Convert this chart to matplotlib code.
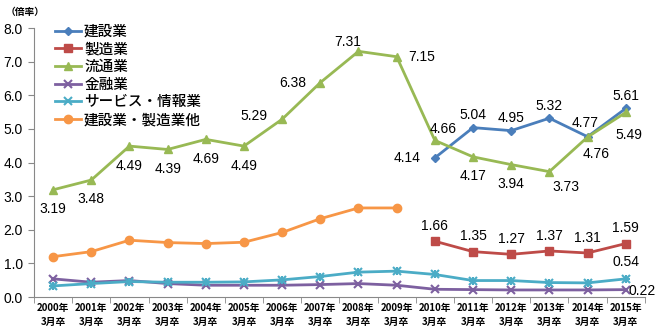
import matplotlib
matplotlib.use("Agg")
import matplotlib.pyplot as plt
import numpy as np

plt.rcParams['font.family'] = ['Noto Sans CJK JP', 'DejaVu Sans']

years = [str(y) for y in range(2000, 2016)]
tick_labels = [f"{y}年\n3月卒" for y in years]

# 2010年以降のみ
construction = [None] * 10 + [4.14, 5.04, 4.95, 5.32, 4.77, 5.61]
manufacturing = [None] * 10 + [1.66, 1.35, 1.27, 1.37, 1.31, 1.59]
distribution = [3.19, 3.48, 4.49, 4.39, 4.69, 4.49, 5.29, 6.38, 7.31, 7.15,
                4.66, 4.17, 3.94, 3.73, 4.76, 5.49]
finance = [0.54, 0.44, 0.49, 0.40, 0.35, 0.35, 0.35, 0.37, 0.40, 0.35,
           0.23, 0.22, 0.21, 0.21, 0.21, 0.22]
service = [0.33, 0.40, 0.46, 0.44, 0.44, 0.45, 0.51, 0.61, 0.74, 0.77,
           0.67, 0.49, 0.49, 0.43, 0.42, 0.54]
# 2009年まで
constr_manuf = [1.20, 1.35, 1.69, 1.62, 1.59, 1.63, 1.92, 2.33, 2.65, 2.65] + [None] * 6

series = [
    ("建設業", construction, "#4A7EBB", "D", 4),
    ("製造業", manufacturing, "#BE4B48", "s", 6),
    ("流通業", distribution, "#98B954", "^", 6),
    ("金融業", finance, "#7D60A0", "x", 6),
    ("サービス・情報業", service, "#4BACC6", "x", 6),
    ("建設業・製造業他", constr_manuf, "#F79646", "o", 6),
]

# label offsets (points) per series, per index
dist_off = {0: (0, -14), 1: (0, -14), 2: (0, -14), 3: (0, -14), 4: (0, -14), 5: (0, -14),
            6: (-20, 2), 7: (-20, 0), 8: (-8, 7), 9: (18, 0), 10: (6, 8),
            11: (0, -14), 12: (0, -14), 13: (12, -11), 14: (6, -12), 15: (2, -16)}
constr_off = {10: (-20, 0), 11: (0, 9), 12: (0, 9), 13: (0, 9), 14: (-2, 10), 15: (0, 9)}

fig = plt.figure(figsize=(6.6, 3.35), dpi=100)
ax = fig.add_axes([0.0515, 0.1134, 0.9255, 0.8026])

for name, vals, color, marker, ms in series:
    xs = [i for i, v in enumerate(vals) if v is not None]
    ys = [v for v in vals if v is not None]
    mew = 1.5 if marker == "x" else 1
    ax.plot(xs, ys, color=color, lw=2, marker=marker, ms=ms, mew=mew, label=name, zorder=3)
    if name == "サービス・情報業":
        ax.plot(xs, ys, ls="none", marker="+", ms=ms, color=color, mew=1.5, zorder=3)

lab = dict(ha="center", va="center", fontsize=10, family=['Liberation Sans', 'DejaVu Sans'])
for i, v in enumerate(distribution):
    dx, dy = dist_off[i]
    ax.annotate(f"{v:.2f}", (i, v), xytext=(dx, dy), textcoords="offset points", **lab)
for i, v in enumerate(construction):
    if v is None:
        continue
    dx, dy = constr_off[i]
    ax.annotate(f"{v:.2f}", (i, v), xytext=(dx, dy), textcoords="offset points", **lab)
for i, v in enumerate(manufacturing):
    if v is None:
        continue
    ax.annotate(f"{v:.2f}", (i, v), xytext=(0, 11), textcoords="offset points", **lab)
ax.annotate(f"{service[15]:.2f}", (15, service[15]), xytext=(0, 12), textcoords="offset points", **lab)
ax.annotate(f"{finance[15]:.2f}", (15, finance[15]), xytext=(12, -1), textcoords="offset points", **lab)

ax.set_xlim(-0.5, len(years) - 0.5)
ax.set_ylim(0, 8)
ax.set_yticks(np.arange(0, 8.1, 1))
ax.set_yticklabels([f"{v:.1f}" for v in np.arange(0, 8.1, 1)], fontsize=10,
                   family=['Liberation Sans', 'DejaVu Sans'])
ax.set_xticks(range(len(years)))
ax.set_xticklabels(tick_labels, fontsize=7, fontweight="bold", linespacing=1.5)
ax.set_xticks(np.arange(-0.5, len(years)), minor=True)
ax.tick_params(axis="x", which="major", length=0, pad=4)
ax.tick_params(axis="x", which="minor", length=4, color="#888888")
ax.tick_params(axis="y", length=4, color="#888888", pad=4)
for s in ("top", "right"):
    ax.spines[s].set_visible(False)
for s in ("left", "bottom"):
    ax.spines[s].set_color("#888888")

fig.text(0.008, 0.955, "（倍率）", fontsize=7, fontweight="bold")

ax.legend(loc="upper left", bbox_to_anchor=(0.02, 1.045), frameon=False,
          prop=dict(size=10.5, weight="medium"),
          handlelength=1.8, handletextpad=0.2, labelspacing=0.25, borderaxespad=0.2)

fig.savefig("out.png", dpi=100)
